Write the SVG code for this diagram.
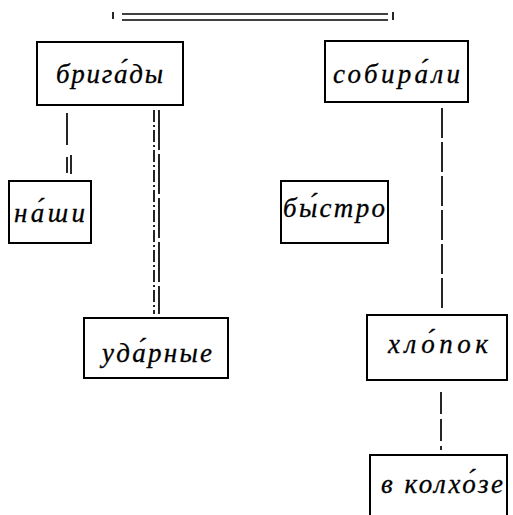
<svg xmlns="http://www.w3.org/2000/svg" width="513" height="515" viewBox="0 0 513 515">
<style>
.box{fill:none;stroke:#000;stroke-width:2}
.t{font-family:"Liberation Serif","DejaVu Serif",serif;font-style:italic;font-size:27px;fill:#000;stroke:#000;stroke-width:0.3}
.c{stroke:#000;stroke-width:1.7;fill:none}
</style>
<rect width="513" height="515" fill="#fff"/>
<g id="predicate-bar">
<line class="c" x1="122" y1="14" x2="388" y2="14" stroke-width="2"/>
<line class="c" x1="122" y1="20" x2="388" y2="20" stroke-width="2"/>
<line class="c" x1="113" y1="12" x2="113" y2="19"/>
<line class="c" x1="393" y1="12" x2="393" y2="20"/>
</g>
<g id="connectors">
<line class="c" x1="67" y1="113" x2="67" y2="174" stroke-dasharray="32,12,16"/>
<line class="c" x1="71" y1="155" x2="71" y2="174"/>
<line class="c" x1="154" y1="110" x2="154" y2="314" stroke-dasharray="12,3,2,3"/>
<line class="c" x1="159" y1="110" x2="159" y2="314" stroke-dasharray="40,4"/>
<line class="c" x1="442" y1="108" x2="442" y2="310" stroke-dasharray="30,4"/>
<line class="c" x1="441" y1="392" x2="441" y2="450" stroke-dasharray="22,5"/>
</g>
<g id="n-brigady">
<rect class="box" x="37" y="42" width="146" height="63"/>
<text class="t" x="56" y="83" textLength="107" lengthAdjust="spacing">брига́ды</text>
</g>
<g id="n-sobirali">
<rect class="box" x="325" y="41" width="143" height="61"/>
<text class="t" x="333" y="83" textLength="127" lengthAdjust="spacing">собира́ли</text>
</g>
<g id="n-nashi">
<rect class="box" x="9" y="181" width="82" height="62"/>
<text class="t" x="14" y="222" textLength="71" lengthAdjust="spacing">на́ши</text>
</g>
<g id="n-bystro">
<rect class="box" x="281" y="181" width="107" height="62"/>
<text class="t" x="283" y="217" textLength="102" lengthAdjust="spacing">бы́стро</text>
</g>
<g id="n-udarnye">
<rect class="box" x="84" y="318" width="144" height="60"/>
<text class="t" x="102" y="362" textLength="110" lengthAdjust="spacing">уда́рные</text>
</g>
<g id="n-khlopok">
<rect class="box" x="367" y="315" width="140" height="65"/>
<text class="t" x="388" y="353" textLength="100" lengthAdjust="spacing">хло́пок</text>
</g>
<g id="n-v-kolkhoze">
<rect class="box" x="370" y="455" width="137" height="65"/>
<text class="t" x="381" y="493" textLength="122" lengthAdjust="spacing">в колхо́зе</text>
</g>
</svg>
